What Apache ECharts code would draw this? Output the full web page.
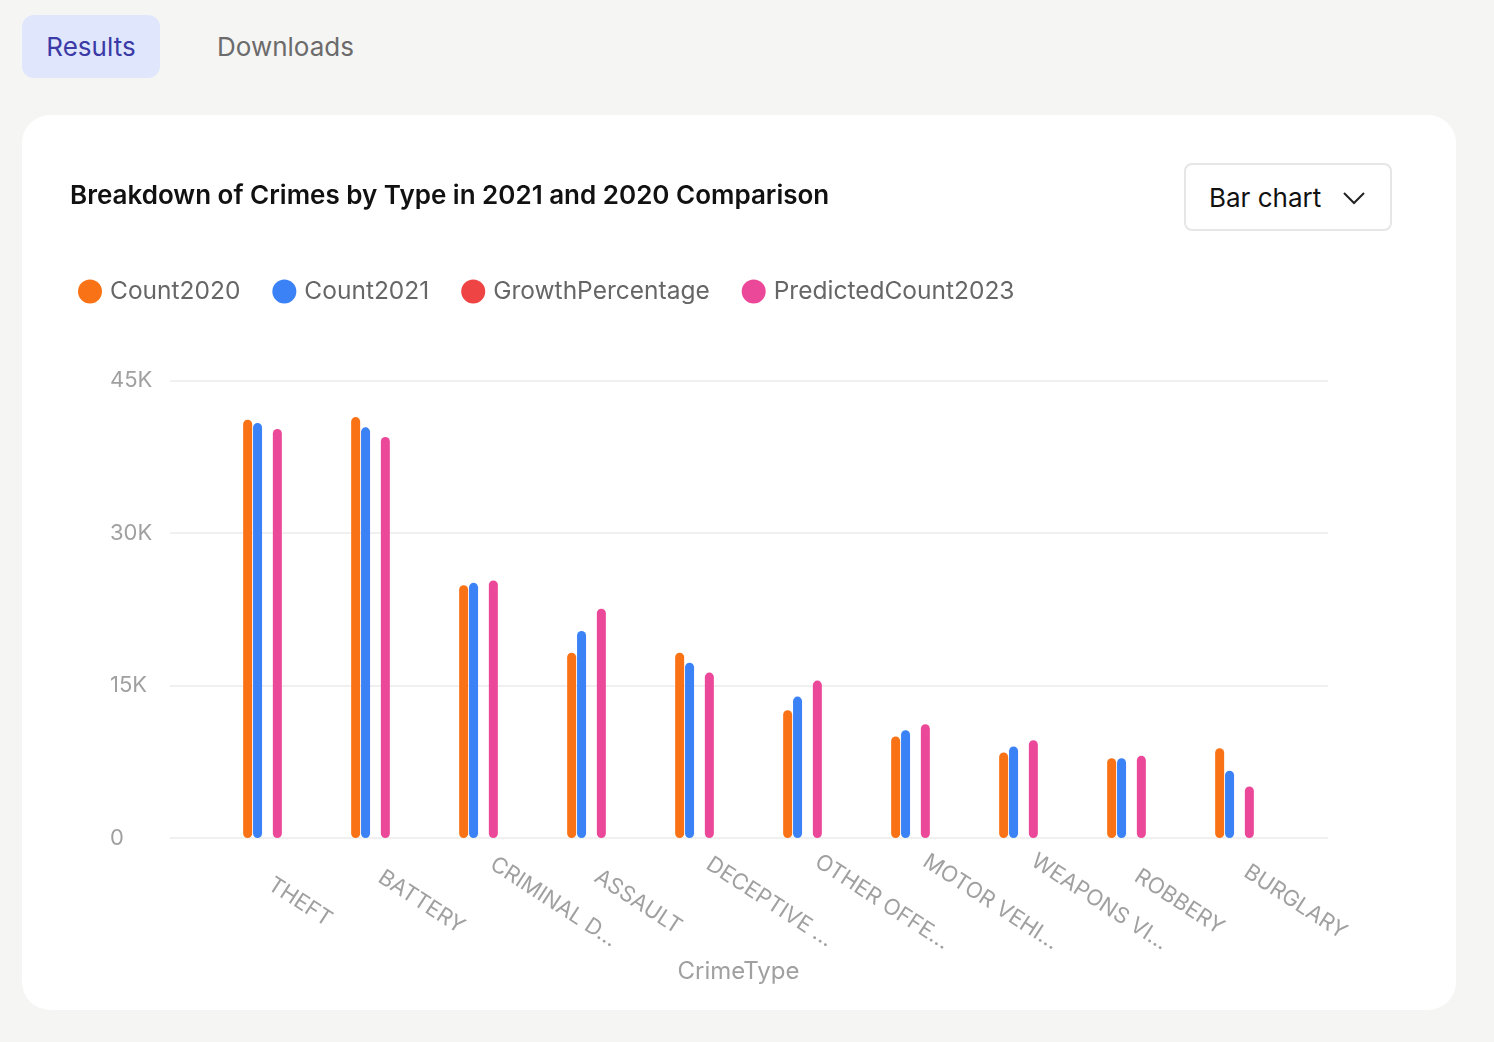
<!DOCTYPE html>
<html>
<head>
<meta charset="utf-8">
<script src="https://cdn.jsdelivr.net/npm/echarts@6/dist/echarts.min.js"></script>
<style>
  html, body { margin:0; padding:0; width:1494px; height:1042px; background:#f5f5f4; font-family: Inter, "Noto Sans", sans-serif; overflow:hidden; }
  .tab { position:absolute; top:15px; height:63px; line-height:63px; font-size:26px; }
  #tab1 { left:22px; width:138px; background:#e0e7fd; border-radius:12px; color:#3b3aa6; text-align:center; }
  #tab2 { left:217px; color:#6b6b6b; }
  #card { position:absolute; left:22px; top:115px; width:1434px; height:895px; background:#fff; border-radius:28px; }
  #dd { position:absolute; left:1184px; top:163px; width:204px; height:64px; border:2px solid #e6e6e6; border-radius:8px; background:#fff; box-sizing:content-box; }
  #dd span { position:absolute; left:23px; top:0; line-height:66px; font-size:26px; color:#111; }
  #dd svg { position:absolute; left:156px; top:25px; }
  #chart { position:absolute; left:0; top:0; width:1494px; height:1042px; }
</style>
</head>
<body>
<div class="tab" id="tab1">Results</div>
<div class="tab" id="tab2">Downloads</div>
<div id="card"></div>
<div id="dd"><span>Bar chart</span><svg width="24" height="16" viewBox="0 0 24 16"><polyline points="2,3 12,13 22,3" fill="none" stroke="#222" stroke-width="2"/></svg></div>
<div id="chart"></div>
<script>
const categories = ["THEFT","BATTERY","CRIMINAL DAMAGE","ASSAULT","DECEPTIVE PRACTICE","OTHER OFFENSE","MOTOR VEHICLE THEFT","WEAPONS VIOLATION","ROBBERY","BURGLARY"];
const count2020 = [41140, 41400, 24870, 18230, 18230, 12570, 9980, 8410, 7850, 8840];
const count2021 = [40820, 40390, 25100, 20360, 17250, 13910, 10600, 9000, 7850, 6610];
const growthPercentage = [-0.8, -2.4, 0.9, 11.7, -5.4, 10.7, 6.2, 7.0, 0.0, -25.2];
const predictedCount2023 = [40230, 39440, 25330, 22550, 16270, 15480, 11190, 9620, 8080, 5070];
const yTicks = [0, 15000, 30000, 45000];

const chart = echarts.init(document.getElementById('chart'), null, {renderer:'canvas'});
const font = 'Inter, "Noto Sans", sans-serif';
const yMax = yTicks[yTicks.length-1];
const yStep = yTicks[1]-yTicks[0];
const labelFont = '22px Inter, "Noto Sans", sans-serif';
const mctx = document.createElement('canvas').getContext('2d');
mctx.font = labelFont;
const truncate = v => v.length > 10 ? v.slice(0,10) + '...' : v;

function mkSeries(name, data, color) {
  return {
    name, type:'bar', data, xAxisIndex:0, yAxisIndex:0,
    barWidth:9, barGap:'10%',
    itemStyle:{color, borderRadius:5}
  };
}
chart.setOption({
  animation:false,
  color:['#f97316','#3b82f6','#ef4444','#ec4899'],
  title:{
    text:'Breakdown of Crimes by Type in 2021 and 2020 Comparison',
    left:65, top:178,
    textStyle:{fontFamily:font, fontSize:26, fontWeight:600, color:'#111'}
  },
  legend:{
    left:73, top:274, icon:'circle', itemWidth:24, itemHeight:24, itemGap:32,
    textStyle:{fontFamily:font, fontSize:24.5, color:'#666', padding:[0,0,0,3]},
    data:['Count2020','Count2021','GrowthPercentage','PredictedCount2023']
  },
  grid:[
    {left:208.5, right:205.5, top:380.5, bottom:204},
    {left:170, right:166, top:380.5, bottom:204}
  ],
  xAxis:[
    {
      type:'category', gridIndex:0, data:categories,
      axisLine:{show:false}, axisTick:{show:false}, axisLabel:{show:false},
      name:'CrimeType', nameLocation:'middle', nameGap:122,
      nameTextStyle:{color:'#a0a0a0', fontFamily:font, fontSize:24, padding:[0,20,0,0]}
    },
    {type:'value', gridIndex:1, show:false, min:0, max:1}
  ],
  yAxis:[
    {type:'value', gridIndex:0, min:0, max:yMax, interval:yStep, show:false, splitLine:{show:false}},
    {
      type:'value', gridIndex:1, min:0, max:yMax, interval:yStep,
      axisLine:{show:false}, axisTick:{show:false},
      splitLine:{lineStyle:{color:'#f0f0f0', width:2}},
      axisLabel:{
        align:'left', margin:60, color:'#a0a0a0', fontFamily:font, fontSize:22,
        formatter:v => v === 0 ? '0' : (v/1000) + 'K'
      }
    }
  ],
  series:[
    mkSeries('Count2020', count2020, '#f97316'),
    mkSeries('Count2021', count2021, '#3b82f6'),
    mkSeries('GrowthPercentage', growthPercentage, '#ef4444'),
    mkSeries('PredictedCount2023', predictedCount2023, '#ec4899'),
    {
      name:'xLabels', type:'custom', xAxisIndex:0, yAxisIndex:0, silent:true, clip:false,
      data: categories.map(c => [c, 0]),
      renderItem(params, api) {
        const idx = api.value(0);
        const p = api.coord([idx, 0]);
        const text = truncate(categories[idx]);
        const w = mctx.measureText(text).width;
        return {
          type:'text', x: p[0] + w/2 + 2, y: p[1] + 64,
          rotation: -33 * Math.PI / 180,
          style:{text, font:labelFont, fill:'#a0a0a0', align:'center', verticalAlign:'middle'}
        };
      }
    }
  ]
});
</script>
</body>
</html>
